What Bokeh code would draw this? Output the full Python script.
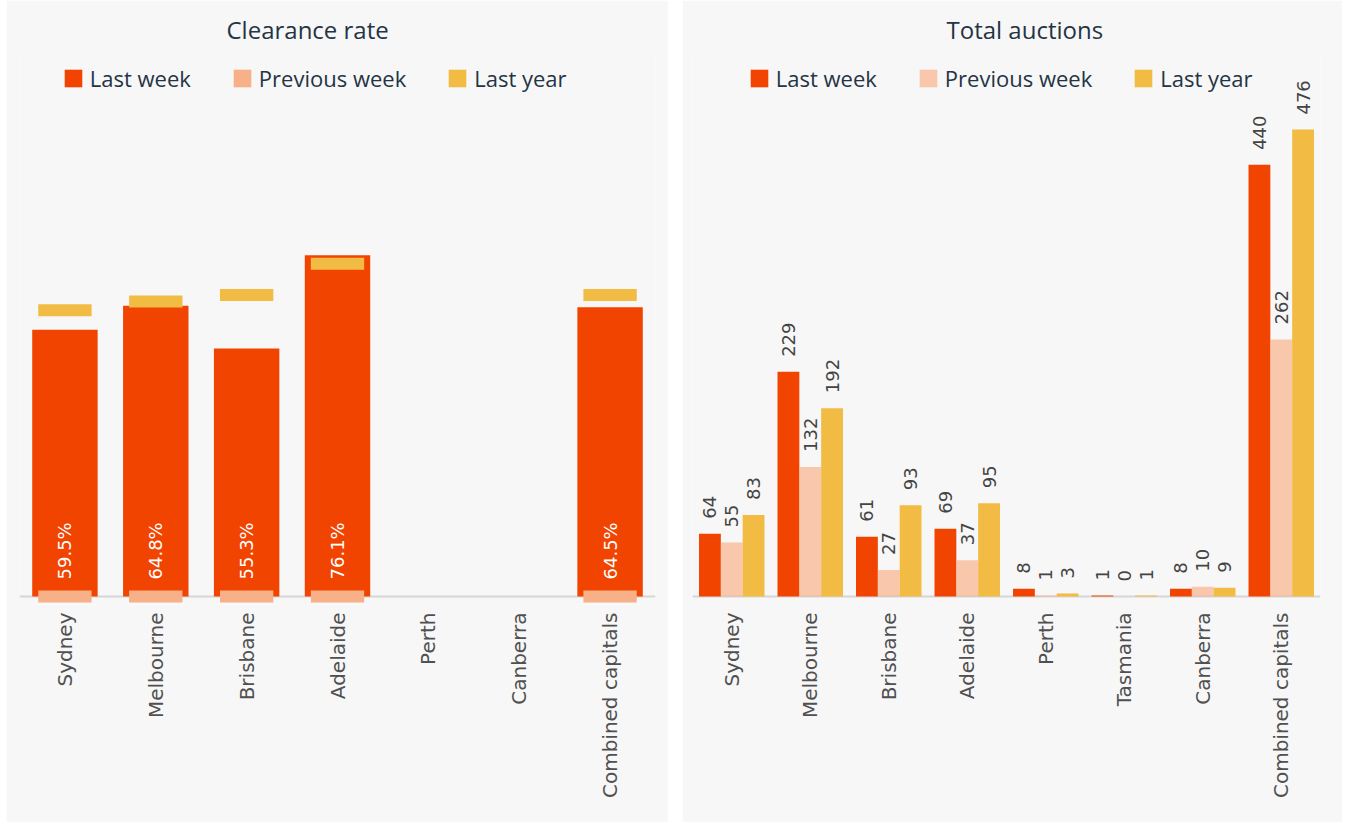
import math
from bokeh.plotting import figure
from bokeh.layouts import row
from bokeh.models import ColumnDataSource, FactorRange, Range1d, Legend, LegendItem, Spacer, Span
from bokeh.transform import dodge
from bokeh.core.properties import value
from bokeh.embed import file_html
from bokeh.resources import INLINE

NaN = float("nan")

# ---------------- data: clearance rate ----------------
cr_cities = ["Sydney", "Melbourne", "Brisbane", "Adelaide", "Perth", "Canberra", "Combined capitals"]
cr_last_week = [59.5, 64.8, 55.3, 76.1, NaN, NaN, 64.5]
cr_prev_week = [0, 0, 0, 0, NaN, NaN, 0]
cr_last_year = [63.8, 65.8, 67.2, 74.2, NaN, NaN, 67.2]

# ---------------- data: total auctions ----------------
ta_cities = ["Sydney", "Melbourne", "Brisbane", "Adelaide", "Perth", "Tasmania", "Canberra", "Combined capitals"]
ta_last_week = [64, 229, 61, 69, 8, 1, 8, 440]
ta_prev_week = [55, 132, 27, 37, 1, 0, 10, 262]
ta_last_year = [83, 192, 93, 95, 3, 1, 9, 476]

C_LW = "#f04400"
C_PW = "#f8b088"
C_LY = "#f2bb44"
BG = "#f7f7f7"
TXT = "#243444"
AXIS = "#d6d6d6"

FH = 822
TOP = 52
BASE = 596          # pixel row of the zero line
PAD = 8             # frame extends this far below the zero line


def base_fig(title, cats, pxu, fw, bl, br, title_off):
    bot = FH - BASE - PAD
    frame_h = FH - TOP - bot
    start = -PAD / pxu
    p = figure(x_range=FactorRange(factors=cats), y_range=Range1d(start, start + frame_h / pxu),
               width=fw, height=FH, output_backend="svg", toolbar_location=None,
               min_border_left=bl, min_border_right=br, min_border_top=TOP, min_border_bottom=bot,
               background_fill_color=BG, border_fill_color=BG, outline_line_color=None)
    p.title.text = title
    p.title.align = "left"
    p.title.offset = title_off
    p.title.standoff = 13
    p.title.text_font = "Open Sans"
    p.title.text_font_size = "24px"
    p.title.text_font_style = "normal"
    p.title.text_color = TXT
    p.yaxis.visible = False
    p.xgrid.visible = False
    p.ygrid.visible = False
    p.add_layout(Span(location=0, dimension="width", line_color=AXIS, line_width=2, level="underlay"))
    ax = p.xaxis[0]
    ax.axis_line_color = None
    ax.major_tick_line_color = None
    ax.minor_tick_line_color = None
    ax.major_tick_out = 0
    ax.major_tick_in = 0
    ax.major_label_orientation = math.pi / 2
    ax.major_label_standoff = 16 - PAD
    ax.major_label_text_font = "DejaVu Sans"
    ax.major_label_text_font_size = "20px"
    ax.major_label_text_color = "#505050"
    return p, frame_h


def add_legend(p, frame_h, renderers, x):
    items = [LegendItem(label=l, renderers=[r]) for l, r in
             zip(["Last week", "Previous week", "Last year"], renderers)]
    H = 29
    leg = Legend(items=items, orientation="horizontal", location=(x, frame_h - (26 - H / 2) - H),
                 padding=0, margin=0, spacing=40, label_standoff=6,
                 glyph_width=22, glyph_height=22,
                 label_text_font="Open Sans", label_text_font_size="22px",
                 label_text_color=TXT, background_fill_alpha=0, border_line_alpha=0)
    p.add_layout(leg)


# ---------------- left chart ----------------
p1, fh1 = base_fig("Clearance rate", cr_cities, 4.485, 662, 13, 13, 207)
src1 = ColumnDataSource(dict(city=cr_cities, lw=cr_last_week, pw=cr_prev_week, ly=cr_last_year))
r_lw = p1.vbar(x="city", top="lw", width=0.72, source=src1, fill_color=C_LW, line_color=None)
r_ly = p1.rect(x="city", y="ly", width=0.587, height=12, height_units="screen", source=src1,
               fill_color=C_LY, line_color=None)
r_pw = p1.rect(x="city", y="pw", width=0.587, height=12, height_units="screen", source=src1,
               fill_color=C_PW, line_color=None)
lab_c = [c for c, v in zip(cr_cities, cr_last_week) if not math.isnan(v)]
lab_v = [v for v in cr_last_week if not math.isnan(v)]
lab1 = ColumnDataSource(dict(city=lab_c, y=[0] * len(lab_c), t=[f"{v:.1f}%" for v in lab_v]))
p1.text(x="city", y="y", text="t", source=lab1, angle=math.pi / 2, text_align="left",
        text_baseline="middle", y_offset=-17, text_color="white",
        text_font=value("DejaVu Sans"), text_font_size="18px")
add_legend(p1, fh1, [r_lw, r_pw, r_ly], 42.8)

# ---------------- right chart ----------------
p2, fh2 = base_fig("Total auctions", ta_cities, 0.981, 660, 10, 22, 254)
src2 = ColumnDataSource(dict(city=ta_cities, lw=ta_last_week, pw=ta_prev_week, ly=ta_last_year,
                             lw_t=[str(v) for v in ta_last_week],
                             pw_t=[str(v) for v in ta_prev_week],
                             ly_t=[str(v) for v in ta_last_year]))
W = 0.278
specs = [("lw", -W, C_LW, 1.0), ("pw", 0.0, C_PW, 0.68), ("ly", W, C_LY, 1.0)]
rs = []
for col, off, colr, alpha in specs:
    xx = dodge("city", off, range=p2.x_range)
    r = p2.vbar(x=xx, top=col, width=W, source=src2, fill_color=colr, fill_alpha=alpha, line_color=None)
    rs.append(r)
    p2.text(x=xx, y=col, text=col + "_t", source=src2, angle=math.pi / 2, text_align="left",
            text_baseline="middle", y_offset=-15, text_color="#444444",
            text_font=value("DejaVu Sans"), text_font_size="18px")
add_legend(p2, fh2, rs, 55.8)

layout = row(Spacer(width=6, height=FH), p1, p2, spacing=0)
p2.margin = (0, 0, 0, 14)
open("out.html", "w").write(file_html(layout, INLINE))
